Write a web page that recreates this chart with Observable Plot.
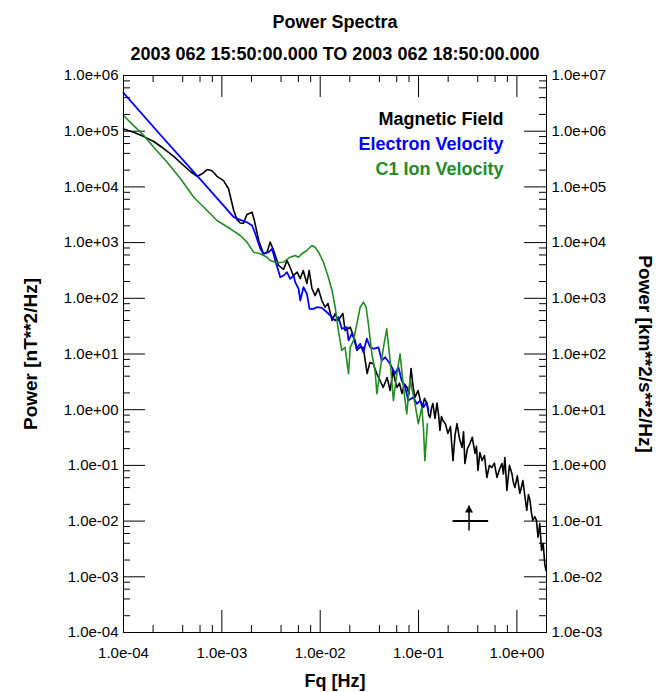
<!DOCTYPE html>
<html>
<head>
<meta charset="utf-8">
<script src="https://cdn.jsdelivr.net/npm/d3@7"></script>
<script src="https://cdn.jsdelivr.net/npm/@observablehq/plot@0.6"></script>
<style>
  html, body { margin: 0; padding: 0; background: #fff; }
</style>
</head>
<body>
<div id="chart"></div>
<script>
// ---------- text ----------
const titleText = "Power Spectra";
const subtitleText = "2003 062 15:50:00.000 TO 2003 062 18:50:00.000";
const xLabelText = "Fq [Hz]";
const yLabelLeft = "Power [nT**2/Hz]";
const yLabelRight = "Power [km**2/s**2/Hz]";
const seriesNames = ["Magnetic Field", "Electron Velocity", "C1 Ion Velocity"];
const seriesColors = ["#000000", "#0000FF", "#228B22"];

// ---------- ticks ----------
const xMajorTicks = [1e-4, 1e-3, 1e-2, 1e-1, 1];
const yMajorTicks = [1e-4, 1e-3, 1e-2, 1e-1, 1, 1e1, 1e2, 1e3, 1e4, 1e5, 1e6];
const yRightTicks = [1e-3, 1e-2, 1e-1, 1, 1e1, 1e2, 1e3, 1e4, 1e5, 1e6, 1e7];
const minorMultipliers = [2, 4, 6, 8];

// ---------- Magnetic Field (black) ----------
const magFreq = [1.00e-4,1.27e-4,1.61e-4,2.03e-4,2.56e-4,3.24e-4,4.09e-4,4.79e-4,5.60e-4,6.30e-4,
  7.08e-4,7.95e-4,8.93e-4,1.04e-3,1.17e-3,1.32e-3,1.43e-3,1.54e-3,1.66e-3,1.80e-3,
  2.03e-3,2.14e-3,2.37e-3,2.65e-3,2.88e-3,3.10e-3,3.36e-3,3.78e-3,4.24e-3,4.59e-3,
  4.95e-3,5.32e-3,5.83e-3,6.27e-3,6.72e-3,7.33e-3,7.73e-3,8.24e-3,8.89e-3,9.55e-3,
  1.04e-2,1.12e-2,1.20e-2,1.32e-2,1.42e-2,1.52e-2,1.70e-2,1.79e-2,2.02e-2,2.16e-2,
  2.36e-2,2.55e-2,2.74e-2,3.00e-2,3.20e-2,3.45e-2,3.75e-2,4.06e-2,4.37e-2,4.79e-2,
  5.14e-2,5.51e-2,5.80e-2,6.05e-2,6.40e-2,6.79e-2,7.20e-2,7.64e-2,8.00e-2,8.39e-2,
  8.80e-2,9.20e-2,9.89e-2,0.104,0.109,0.115,0.122,0.127,0.131,0.136,
  0.140,0.147,0.154,0.160,0.165,0.171,0.177,0.188,0.199,0.211,
  0.224,0.235,0.246,0.261,0.277,0.287,0.296,0.314,0.333,0.352,
  0.375,0.388,0.402,0.420,0.442,0.468,0.495,0.525,0.557,0.590,
  0.627,0.665,0.705,0.730,0.755,0.770,0.791,0.840,0.889,0.920,
  0.955,1.01,1.07,1.11,1.15,1.20,1.26,1.31,1.36,1.40,
  1.45,1.52,1.58,1.64,1.71,1.78,1.85,1.92,1.97];
const magPower = [1.10e5,9.6e4,8.0e4,6.53e4,4.89e4,3.52e4,2.42e4,1.89e4,1.54e4,1.72e4,
  2.05e4,1.95e4,1.55e4,1.30e4,9.25e3,3.77e3,2.56e3,2.25e3,2.23e3,3.19e3,
  3.52e3,2.49e3,1.09e3,630,673,1.02e3,721,388,329,478,
  357,256,294,226,316,185,316,150,112,150,
  91.4,69.2,80.7,39.9,53.3,39.9,53.3,26.4,30.3,22,
  11.6,13.2,13.1,4.47,7.0,6.75,4.5,3.34,2.51,3.78,
  2.21,5.06,3.2,2.51,3.0,1.95,2.9,2.51,1.9,5.5,
  2.6,1.66,2.21,1.5,1.09,1.6,1.29,0.8,0.724,1.1,
  1.29,0.7,1.32,0.8,0.424,0.75,0.640,0.55,0.374,0.5,
  0.122,0.35,0.565,0.3,0.210,0.4,0.108,0.2,0.247,0.32,
  0.164,0.22,0.081,0.17,0.122,0.15,0.0607,0.1,0.0916,0.11,
  0.0607,0.085,0.108,0.07,0.139,0.08,0.0354,0.1,0.0716,0.05,
  0.0401,0.065,0.0313,0.04,0.0536,0.03,0.0155,0.03,0.0234,0.015,
  0.0103,0.012,0.0103,0.00514,0.00906,0.00296,0.00396,0.00173,0.00130];

// ---------- Electron Velocity (blue) ----------
const eleFreq = [1.00e-4,2.38e-4,6.05e-4,1.32e-3,1.54e-3,1.80e-3,2.03e-3,2.19e-3,2.46e-3,2.65e-3,
  2.99e-3,3.24e-3,3.49e-3,3.93e-3,4.24e-3,4.59e-3,4.95e-3,5.36e-3,5.57e-3,6.03e-3,
  6.27e-3,6.76e-3,7.33e-3,7.78e-3,8.55e-3,9.25e-3,1.04e-2,1.17e-2,1.32e-2,1.42e-2,
  1.53e-2,1.66e-2,1.87e-2,1.94e-2,2.10e-2,2.26e-2,2.36e-2,2.55e-2,2.75e-2,2.98e-2,
  3.22e-2,3.48e-2,3.91e-2,4.23e-2,4.57e-2,5.14e-2,5.77e-2,6.24e-2,6.74e-2,7.30e-2,
  7.87e-2,8.85e-2,9.60e-2,0.104,0.112,0.121,0.126];
const elePower = [4.89e5,8.55e4,1.36e4,2.86e3,2.56e3,2.32e3,2.03e3,1.44e3,774,630,
  673,774,478,239,256,294,224,256,195,148,
  91.4,158,120,64.7,64.7,69.2,67.5,56.2,45.8,39.9,
  45.8,28.3,30.3,17.5,23.1,17.5,12.4,15.2,10.8,18.8,
  13.2,12.4,13.2,7.64,8.77,6.67,4.42,5.79,3.34,2.54,
  1.46,1.67,1.28,1.46,1.11,1.36,0.968];

// ---------- C1 Ion Velocity (green) ----------
const ionFreq = [1.00e-4,1.27e-4,1.61e-4,2.03e-4,2.78e-4,3.80e-4,5.18e-4,7.08e-4,8.93e-4,1.22e-3,
  1.54e-3,1.80e-3,2.10e-3,2.46e-3,2.88e-3,3.10e-3,3.63e-3,4.24e-3,4.95e-3,5.57e-3,
  6.03e-3,6.52e-3,7.33e-3,8.24e-3,8.89e-3,9.62e-3,1.08e-2,1.21e-2,1.32e-2,1.42e-2,
  1.53e-2,1.66e-2,1.79e-2,1.94e-2,2.02e-2,2.18e-2,2.36e-2,2.55e-2,2.75e-2,2.93e-2,
  3.09e-2,3.35e-2,3.61e-2,3.77e-2,4.06e-2,4.40e-2,4.75e-2,5.14e-2,5.55e-2,6.01e-2,
  6.49e-2,7.02e-2,7.59e-2,8.20e-2,9.20e-2,9.95e-2,0.108,0.112,0.116,0.123];
const ionPower = [1.91e5,1.26e5,8.37e4,5.16e4,2.77e4,1.40e4,6.53e3,3.77e3,2.49e3,1.77e3,
  1.34e3,1.02e3,673,630,547,478,434,445,547,586,
  547,630,721,887,826,673,445,239,138,69.2,
  26.4,11.6,13.2,4.42,13.2,17.5,34.8,69.2,85.1,69.2,
  34.8,10.1,5.06,1.93,5.06,13.2,28.3,7.64,1.46,4.42,
  10.1,2.54,0.843,3.63,1.28,0.558,1.11,0.485,0.122,0.558];

// ---------- marker (arrow + bar) ----------
const markerFreq = [0.326];
const markerPower = [0.01];
const markerLow = [0.222];
const markerHigh = [0.51];
const arrowBase = [0.0068];
const arrowTip = [0.019];

// ---------- build tables ----------
const toRows = (fs, ps) => fs.map((f, i) => ({freq: f, power: ps[i]}));
const magRows = toRows(magFreq, magPower);
const eleRows = toRows(eleFreq, elePower);
const ionRows = toRows(ionFreq, ionPower);
const markerRows = markerFreq.map((f, i) => ({
  freq: f, power: markerPower[i], low: markerLow[i], high: markerHigh[i], base: arrowBase[i], tip: arrowTip[i]
}));

const xMinorTicks = [];
for (const dec of xMajorTicks) for (const m of minorMultipliers) if (dec * m < 2) xMinorTicks.push(dec * m);
const yMinorTicks = [];
for (const dec of yMajorTicks.slice(0, -1)) for (const m of minorMultipliers) yMinorTicks.push(dec * m);

const fmtSci = d => {
  const [m, e] = d.toExponential(1).split("e");
  const n = +e;
  return `${m}e${n < 0 ? "-" : "+"}${String(Math.abs(n)).padStart(2, "0")}`;
};
const rightFmt = d => fmtSci(yRightTicks[yMajorTicks.indexOf(d)]);

const font = '"Liberation Sans", Arial, Helvetica, sans-serif';
const bold = {fontSize: 18, fontWeight: "bold"};

// layout
const W = 663, H = 692, ML = 123, MR = 117, MT = 75, MB = 60;
const FW = W - ML - MR, FH = H - MT - MB;
const MAJ = 22, MIN = 7;
const idf = d => d;

const chart = Plot.plot({
  width: W,
  height: H,
  marginLeft: ML,
  marginRight: MR,
  marginTop: MT,
  marginBottom: MB,
  style: {fontFamily: font, fontSize: "15px"},
  x: {type: "log", domain: [1e-4, 2], label: null},
  y: {type: "log", domain: [1e-4, 1e6], label: null},
  marks: [
    // tick labels
    Plot.axisX(xMajorTicks, {anchor: "bottom", tickSize: 0, tickPadding: 15, tickFormat: fmtSci, label: null, fontSize: 15}),
    Plot.axisY(yMajorTicks, {anchor: "left", tickSize: 0, tickPadding: 5, tickFormat: fmtSci, label: null, fontSize: 15}),
    Plot.axisY(yMajorTicks, {anchor: "right", tickSize: 0, tickPadding: 5, tickFormat: rightFmt, label: null, fontSize: 15}),
    // inward tick marks
    Plot.tickX(xMajorTicks, {x: idf, insetTop: FH - MAJ, stroke: "#000", strokeWidth: 1}),
    Plot.tickX(xMinorTicks, {x: idf, insetTop: FH - MIN, stroke: "#000", strokeWidth: 1}),
    Plot.tickX(xMajorTicks, {x: idf, insetBottom: FH - MAJ, stroke: "#000", strokeWidth: 1}),
    Plot.tickX(xMinorTicks, {x: idf, insetBottom: FH - MIN, stroke: "#000", strokeWidth: 1}),
    Plot.tickY(yMajorTicks, {y: idf, insetRight: FW - MAJ, stroke: "#000", strokeWidth: 1}),
    Plot.tickY(yMinorTicks, {y: idf, insetRight: FW - MIN, stroke: "#000", strokeWidth: 1}),
    Plot.tickY(yMajorTicks, {y: idf, insetLeft: FW - MAJ, stroke: "#000", strokeWidth: 1}),
    Plot.tickY(yMinorTicks, {y: idf, insetLeft: FW - MIN, stroke: "#000", strokeWidth: 1}),
    // spectra
    Plot.line(magRows, {x: "freq", y: "power", stroke: seriesColors[0], strokeWidth: 1.6}),
    Plot.line(eleRows, {x: "freq", y: "power", stroke: seriesColors[1], strokeWidth: 1.8}),
    Plot.line(ionRows, {x: "freq", y: "power", stroke: seriesColors[2], strokeWidth: 1.6}),
    // marker
    Plot.link(markerRows, {x1: "low", x2: "high", y1: "power", y2: "power", stroke: "#000", strokeWidth: 2}),
    Plot.link(markerRows, {x1: "freq", x2: "freq", y1: "base", y2: "tip", stroke: "#000", strokeWidth: 1.5}),
    Plot.dot(markerRows, {x: "freq", y: "tip", symbol: "triangle", r: 3, fill: "#000", dy: 4.5}),
    // legend
    Plot.text([seriesNames[0]], {frameAnchor: "top-right", textAnchor: "end", lineAnchor: "bottom", dx: -43, dy: 49, fill: seriesColors[0], ...bold}),
    Plot.text([seriesNames[1]], {frameAnchor: "top-right", textAnchor: "end", lineAnchor: "bottom", dx: -43, dy: 74, fill: seriesColors[1], ...bold}),
    Plot.text([seriesNames[2]], {frameAnchor: "top-right", textAnchor: "end", lineAnchor: "bottom", dx: -43, dy: 99, fill: seriesColors[2], ...bold}),
    // titles and axis labels
    Plot.text([titleText], {frameAnchor: "top", lineAnchor: "bottom", dy: -48, ...bold}),
    Plot.text([subtitleText], {frameAnchor: "top", lineAnchor: "bottom", dy: -16, ...bold}),
    Plot.text([xLabelText], {frameAnchor: "bottom", lineAnchor: "bottom", dy: 54, ...bold}),
    Plot.text([yLabelLeft], {frameAnchor: "left", lineAnchor: "middle", textAnchor: "middle", rotate: -90, dx: -93, fontSize: 19, fontWeight: "bold"}),
    Plot.text([yLabelRight], {frameAnchor: "right", lineAnchor: "middle", textAnchor: "middle", rotate: 90, dx: 99, fontSize: 19, fontWeight: "bold"}),
    Plot.frame({stroke: "#000"})
  ]
});
document.getElementById("chart").appendChild(chart);
</script>
</body>
</html>
